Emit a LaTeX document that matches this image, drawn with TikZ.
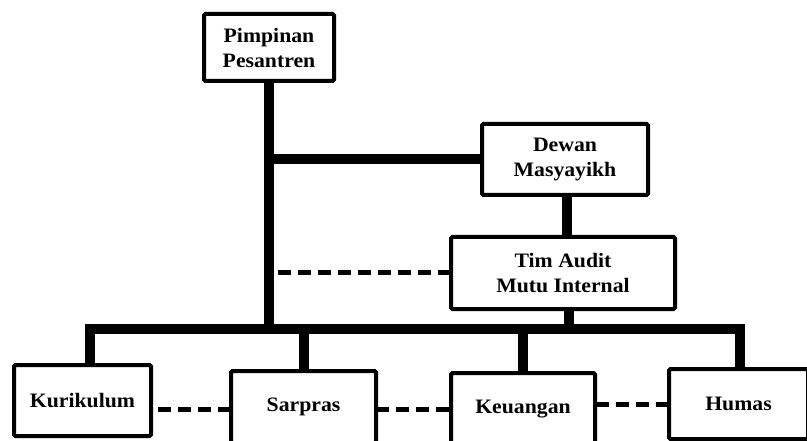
\documentclass[tikz,border=0pt]{standalone}
\usepackage{fontspec}
\setmainfont{Liberation Serif}[FakeStretch=1.06]
\usetikzlibrary{positioning,calc}
\tikzset{
  orgpic/.style={
    x=1pt,y=-1pt
    ,inner sep=0pt
    ,outer sep=0pt
  }
  ,unit/.style={rectangle
    ,draw=black
    ,line width=4pt
    ,rounded corners=1.5pt
    ,fill=white
    ,align=center
    ,font=\fontsize{20.5}{25}\selectfont\bfseries
  }
  ,link/.style={line width=10pt,line join=miter,draw=black}
  ,dashlink/.style={line width=5pt,draw=black,dash pattern=on 13pt off 7pt}
}

\begin{document}
\begin{tikzpicture}[orgpic]
  \useasboundingbox (0,0) rectangle (807,441);
  \clip (0,0) rectangle (807,441);

  % top of the chart
  \node[unit,minimum width=130pt,minimum height=67pt] (pimpinan) at (269,47.5)
    {Pimpinan\\Pesantren};
  \node[unit,minimum width=166pt,minimum height=71pt] (dewan) at (565,159.5)
    {Dewan\\Masyayikh};
  \node[unit,minimum width=224pt,minimum height=72pt] (tim) at (563,273)
    {Tim Audit\\Mutu Internal};

  % bottom row
  \node[unit,minimum width=137pt,minimum height=71pt] (kurikulum) at (82.5,400.5) {Kurikulum};
  \node[unit,minimum width=145pt,minimum height=72pt] (sarpras) at (303.5,407) {Sarpras};
  \node[unit,minimum width=144pt,minimum height=72pt] (keuangan) at (523,409) {Keuangan};
  \node[unit,minimum width=139pt,minimum height=70pt] (humas) at (738.5,404) {Humas};

  \coordinate (bus) at (0,329);

  % solid lines
  \draw[link] (pimpinan.south) -- (pimpinan.south |- bus);
  \draw[link] (dewan.west) -- (dewan.west -| pimpinan.south);
  \draw[link] ([xshift=2pt]dewan.south) -- ([xshift=2pt]dewan.south |- tim.north);
  \draw[link] ([xshift=6pt]tim.south) -- ([xshift=6pt]tim.south |- bus);
  \draw[link] ([xshift=7.5pt]kurikulum.north) -- ([xshift=7.5pt]kurikulum.north |- bus)
    -- ([xshift=1.5pt]humas.north |- bus) -- ([xshift=1.5pt]humas.north);
  \draw[link] (sarpras.north) -- (sarpras.north |- bus);
  \draw[link] (keuangan.north) -- (keuangan.north |- bus);

  % dashed lines
  \draw[dashlink] (tim.west) -- ([xshift=5pt]tim.west -| pimpinan.south);
  \draw[dashlink] ([yshift=-2pt]sarpras.west) -- ([yshift=-2pt]sarpras.west -| kurikulum.east);
  \draw[dashlink] ([yshift=-2pt]sarpras.east) -- ([yshift=-2pt]sarpras.east -| keuangan.west);
  \draw[dashlink] (humas.west) -- (humas.west -| keuangan.east);
\end{tikzpicture}
\end{document}
